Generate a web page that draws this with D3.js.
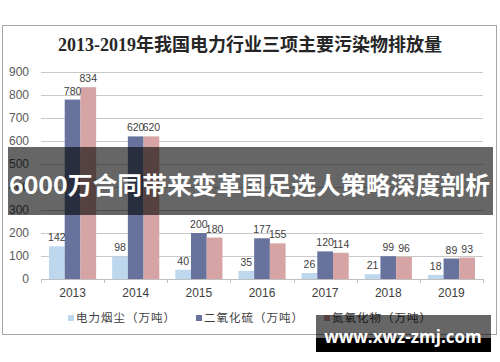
<!DOCTYPE html>
<html>
<head>
<meta charset="utf-8">
<script src="https://cdn.jsdelivr.net/npm/d3@7"></script>
<style>
  body { margin: 0; background: #fff; }
  svg { display: block; }
</style>
</head>
<body>
<div id="chart"></div>
<script>
'use strict';

const years = ['2013', '2014', '2015', '2016', '2017', '2018', '2019'];
const seriesNames = ['电力烟尘（万吨）', '二氧化硫（万吨）', '氮氧化物（万吨）'];
const dust = [142, 98, 40, 35, 26, 21, 18];
const so2 = [780, 620, 200, 177, 120, 99, 89];
const nox = [834, 620, 180, 155, 114, 96, 93];
const yTicks = [0, 100, 200, 300, 400, 500, 600, 700, 800, 900];

const colors = ['#bdd7ee', '#67739c', '#d6a4a4'];
const seriesValues = [dust, so2, nox];

const width = 500;
const height = 362;
const cjk = '"Liberation Sans", "Noto Sans CJK SC", sans-serif';

const svg = d3.select('#chart')
  .append('svg')
  .attr('width', width)
  .attr('height', height);

// chart frame
svg.append('rect')
  .attr('x', 2.5)
  .attr('y', 25.5)
  .attr('width', 494)
  .attr('height', 309)
  .attr('fill', '#fff')
  .attr('stroke', '#a6a6a6');

svg.append('text')
  .attr('x', 250)
  .attr('y', 51)
  .attr('text-anchor', 'middle')
  .style('font-family', '"Liberation Serif", "Noto Sans CJK SC", serif')
  .style('font-weight', 'bold')
  .style('font-size', '18px')
  .attr('fill', '#262626')
  .text('2013-2019年我国电力行业三项主要污染物排放量');

const x = d3.scaleBand(years, [41, 483]);
const xSub = d3.scaleBand([0, 1, 2], [8, x.bandwidth() - 8]);
const y = d3.scaleLinear([0, 900], [279, 72]);

// gridlines
svg.append('g')
  .selectAll('line')
  .data(yTicks.slice(1))
  .join('line')
  .attr('x1', 41)
  .attr('x2', 483)
  .attr('y1', (d) => Math.round(y(d)) + 0.5)
  .attr('y2', (d) => Math.round(y(d)) + 0.5)
  .attr('stroke', '#c9c9c9')
  .attr('stroke-width', 1);

const yAxis = d3.axisLeft(y)
  .tickValues(yTicks)
  .tickSize(0)
  .tickPadding(0);

svg.append('g')
  .attr('transform', 'translate(29,0)')
  .call(yAxis)
  .call((g) => g.select('.domain').remove())
  .call((g) => g.selectAll('text')
    .attr('fill', '#595959')
    .style('font-family', '"Liberation Sans", Arial, sans-serif')
    .style('font-size', '12px'));

// bars
const groups = svg.append('g')
  .selectAll('g')
  .data(years)
  .join('g')
  .attr('transform', (d) => `translate(${x(d)},0)`);

groups.selectAll('rect')
  .data((d, i) => seriesValues.map((s, k) => ({ k, v: s[i] })))
  .join('rect')
  .attr('x', (d) => xSub(d.k))
  .attr('width', xSub.bandwidth())
  .attr('y', (d) => y(d.v))
  .attr('height', (d) => y(0) - y(d.v))
  .attr('fill', (d) => colors[d.k]);

groups.selectAll('text')
  .data((d, i) => seriesValues.map((s, k) => ({ k, v: s[i] })))
  .join('text')
  .attr('x', (d) => xSub(d.k) + xSub.bandwidth() / 2)
  .attr('y', (d) => y(d.v) - 5)
  .attr('text-anchor', 'middle')
  .attr('fill', '#404040')
  .style('font-family', '"Liberation Sans", Arial, sans-serif')
  .style('font-size', '10.5px')
  .text((d) => d.v);

// x axis
const xAxis = d3.axisBottom(x).tickSize(0).tickPadding(9);

svg.append('g')
  .attr('transform', `translate(0,${y(0)})`)
  .call(xAxis)
  .call((g) => g.select('.domain').attr('stroke', '#bfbfbf'))
  .call((g) => g.selectAll('text')
    .attr('fill', '#404040')
    .style('font-family', '"Liberation Sans", Arial, sans-serif')
    .style('font-size', '12px'));

svg.append('g')
  .selectAll('line')
  .data(years.concat(['end']))
  .join('line')
  .attr('x1', (d) => Math.round(d === 'end' ? x.range()[1] : x(d)) + 0.5)
  .attr('x2', (d) => Math.round(d === 'end' ? x.range()[1] : x(d)) + 0.5)
  .attr('y1', y(0))
  .attr('y2', y(0) + 4)
  .attr('stroke', '#bfbfbf');

// legend
const legendX = [68, 196, 324];
const legend = svg.append('g')
  .selectAll('g')
  .data(seriesNames)
  .join('g')
  .attr('transform', (d, i) => `translate(${legendX[i]},318)`);

legend.append('rect')
  .attr('x', 0)
  .attr('y', -3)
  .attr('width', 6)
  .attr('height', 6)
  .attr('fill', (d, i) => colors[i]);

legend.append('text')
  .attr('x', 8)
  .attr('y', 4)
  .attr('fill', '#404040')
  .style('font-family', cjk)
  .style('font-size', '11.5px')
  .style('letter-spacing', '1px')
  .text((d) => d);

// overlay banner
svg.append('rect')
  .attr('x', 8)
  .attr('y', 147)
  .attr('width', 485)
  .attr('height', 68)
  .attr('fill', '#000')
  .attr('fill-opacity', 0.6);

svg.append('text')
  .attr('x', 9)
  .attr('y', 194)
  .attr('textLength', 481)
  .attr('lengthAdjust', 'spacingAndGlyphs')
  .attr('fill', '#fff')
  .style('font-family', '"Noto Sans CJK SC", sans-serif')
  .style('font-weight', 'bold')
  .style('font-size', '24px')
  .text('6000万合同带来变革国足选人策略深度剖析');

// watermark
svg.append('rect')
  .attr('x', 316)
  .attr('y', 315)
  .attr('width', 175)
  .attr('height', 23)
  .attr('fill', '#000')
  .attr('fill-opacity', 0.6);

svg.append('rect')
  .attr('x', 316)
  .attr('y', 338)
  .attr('width', 175)
  .attr('height', 14)
  .attr('fill', '#000');

svg.append('text')
  .attr('x', 403)
  .attr('y', 343)
  .attr('text-anchor', 'middle')
  .attr('fill', '#fff')
  .style('font-family', '"Open Sans", "Noto Sans", sans-serif')
  .style('font-weight', 'bold')
  .style('font-size', '17px')
  .text('www.xwz-zmj.com');
</script>
</body>
</html>
